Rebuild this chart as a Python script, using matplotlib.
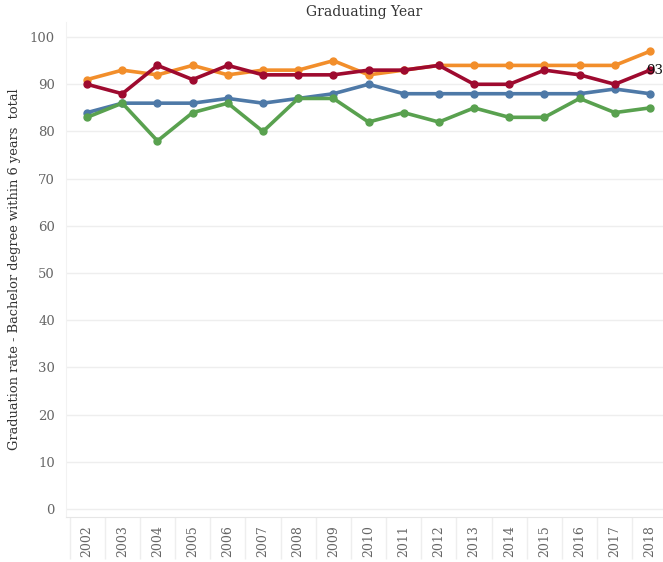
import matplotlib.pyplot as plt

years = [str(y) for y in range(2002, 2019)]
orange = [91, 93, 92, 94, 92, 93, 93, 95, 92, 93, 94, 94, 94, 94, 94, 94, 97]
red = [90, 88, 94, 91, 94, 92, 92, 92, 93, 93, 94, 90, 90, 93, 92, 90, 93]
blue = [84, 86, 86, 86, 87, 86, 87, 88, 90, 88, 88, 88, 88, 88, 88, 89, 88]
green = [83, 86, 78, 84, 86, 80, 87, 87, 82, 84, 82, 85, 83, 83, 87, 84, 85]

plt.rcParams['font.family'] = ['DejaVu Serif']

fig = plt.figure(figsize=(6.63, 5.62), dpi=100)
ax = fig.add_axes([66 / 663, 45 / 562, 597 / 663, 495 / 562])

x = list(range(len(years)))
series = [(orange, '#F28E2B'), (blue, '#4E79A7'), (green, '#59A14F'), (red, '#9E0A2F')]
for vals, col in series:
    ax.plot(x, vals, color=col, lw=2.6, marker='o', ms=5, zorder=3)

ax.text(x[-1] - 0.12, red[-1], str(red[-1]), fontsize=9.5, va='center', ha='left', color='#111111', zorder=4)

ax.set_xlim(-0.6, len(years) - 0.63)
ax.set_ylim(-1.7, 103.2)
ax.set_yticks(range(0, 101, 10))
ax.set_xticks(x)
ax.set_xticklabels(years, rotation=90, fontsize=9, color='#666666')
ax.set_xticks([i + 0.5 for i in x[:-1]] + [-0.5], minor=True)
ax.tick_params(axis='x', which='minor', length=30, color='#EEEEEE', width=1)
ax.tick_params(axis='y', length=0, labelsize=9.5, labelcolor='#666666', pad=8)
ax.tick_params(axis='x', which='major', length=0, pad=6)
ax.grid(axis='y', color='#EEEEEE', lw=1)
ax.set_axisbelow(True)
for s in ['top', 'right']:
    ax.spines[s].set_visible(False)
ax.spines['left'].set_color('#F2F2F2')
ax.spines['bottom'].set_color('#E6E6E6')
ax.spines['bottom'].set_linestyle((0, (1, 1)))

fig.text(0.5 + 66 / 663 / 2, 1 - 12 / 562, 'Graduating Year', ha='center', va='center', fontsize=10, color='#333333')
ax.set_ylabel('Graduation rate - Bachelor degree within 6 years  total', fontsize=9.4, color='#333333', labelpad=6)

fig.savefig('out.png', dpi=100)
plt.close()
